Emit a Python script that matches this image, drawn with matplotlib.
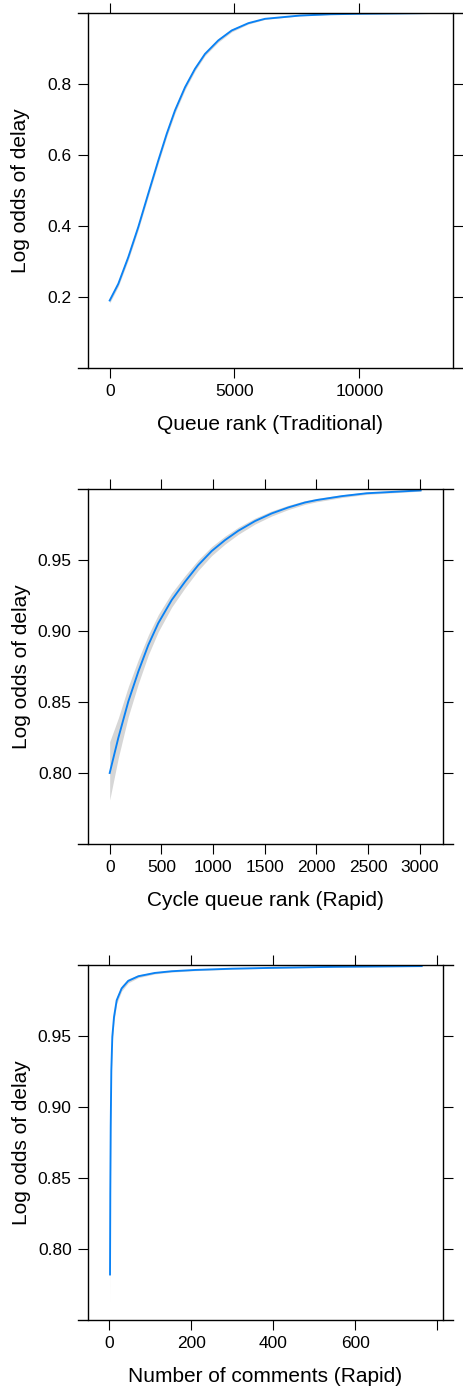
import matplotlib
matplotlib.use("Agg")
import matplotlib.pyplot as plt
from matplotlib.lines import Line2D

plt.rcParams['font.family'] = ['Liberation Sans', 'DejaVu Sans']

# fitted effect curves with confidence bands
queue_x = [0, 345, 745, 1146, 1546, 1947, 2284, 2616, 3017, 3417, 3818, 4351, 4888,
           5553, 6222, 7624, 8826, 10027, 11629, 12830]
queue_fit = [0.190, 0.237, 0.312, 0.397, 0.491, 0.584, 0.659, 0.725, 0.790, 0.842, 0.884,
             0.922, 0.950, 0.9705, 0.9828, 0.992, 0.9955, 0.997, 0.998, 0.999]
queue_lo = [0.183, 0.230, 0.304, 0.389, 0.483, 0.576, 0.651, 0.717, 0.783, 0.836, 0.879,
            0.917, 0.946, 0.9680, 0.9810, 0.9910, 0.9949, 0.9966, 0.9977, 0.9988]
queue_hi = [0.197, 0.244, 0.320, 0.405, 0.499, 0.592, 0.667, 0.733, 0.797, 0.848, 0.889,
            0.927, 0.954, 0.9730, 0.9846, 0.9930, 0.9961, 0.9974, 0.9983, 0.9992]

cycle_x = [0, 83, 180, 277, 374, 470, 600, 729, 857, 987, 1116, 1245, 1406, 1568, 1728,
           1890, 2003, 2250, 2487, 3010]
cycle_fit = [0.800, 0.8246, 0.8503, 0.8714, 0.8902, 0.9055, 0.9218, 0.9347, 0.9464, 0.9563,
             0.9640, 0.9706, 0.9774, 0.9828, 0.9870, 0.9905, 0.9922, 0.9950, 0.9970, 0.9990]
cycle_lo = [0.781, 0.8106, 0.8398, 0.8629, 0.8832, 0.8995, 0.9168, 0.9304, 0.9427, 0.9531,
            0.9612, 0.9681, 0.9753, 0.9810, 0.9855, 0.9892, 0.9910, 0.9940, 0.9962, 0.9985]
cycle_hi = [0.822, 0.8386, 0.8608, 0.8799, 0.8972, 0.9115, 0.9268, 0.9390, 0.9501, 0.9595,
            0.9668, 0.9731, 0.9795, 0.9846, 0.9885, 0.9918, 0.9934, 0.9960, 0.9978, 0.9995]

comments_x = [1.7, 2.4, 3.4, 4.9, 7.3, 11.5, 18, 30, 46, 71, 111, 152, 209, 300, 400, 550, 762]
comments_fit = [0.782, 0.839, 0.886, 0.9258, 0.9493, 0.9633, 0.9750, 0.9833, 0.9886, 0.9919,
                0.9942, 0.9954, 0.9963, 0.9972, 0.9978, 0.9985, 0.9990]
comments_lo = [0.762, 0.827, 0.878, 0.9205, 0.9455, 0.9603, 0.9726, 0.9814, 0.9872, 0.9909,
               0.9935, 0.9948, 0.9958, 0.9968, 0.9975, 0.9983, 0.9988]
comments_hi = [0.800, 0.851, 0.894, 0.9311, 0.9531, 0.9663, 0.9774, 0.9852, 0.9900, 0.9929,
               0.9949, 0.9960, 0.9968, 0.9976, 0.9981, 0.9987, 0.9992]

panels = [
    dict(x=queue_x, fit=queue_fit, lo=queue_lo, hi=queue_hi,
         xlabel='Queue rank (Traditional)',
         xticks=[0, 5000, 10000], xticklabels=['0', '5000', '10000'],
         yticks=[0.2, 0.4, 0.6, 0.8], yticklabels=['0.2', '0.4', '0.6', '0.8'],
         xlim=(-869, 13754), ylim=(0.0, 1.0),
         box=(88, 453, 12.7, 368)),
    dict(x=cycle_x, fit=cycle_fit, lo=cycle_lo, hi=cycle_hi,
         xlabel='Cycle queue rank (Rapid)',
         xticks=[0, 500, 1000, 1500, 2000, 2500, 3000],
         xticklabels=['0', '500', '1000', '1500', '2000', '2500', '3000'],
         yticks=[0.80, 0.85, 0.90, 0.95], yticklabels=['0.80', '0.85', '0.90', '0.95'],
         xlim=(-210, 3226), ylim=(0.75, 1.0),
         box=(88, 443, 489, 844)),
    dict(x=comments_x, fit=comments_fit, lo=comments_lo, hi=comments_hi,
         xlabel='Number of comments (Rapid)',
         xticks=[0, 200, 400, 600, 800], xticklabels=['0', '200', '400', '600', ''],
         yticks=[0.80, 0.85, 0.90, 0.95], yticklabels=['0.80', '0.85', '0.90', '0.95'],
         xlim=(-52, 814), ylim=(0.75, 1.0),
         box=(88, 443, 964.7, 1320)),
]

W, H = 464, 1391
fig = plt.figure(figsize=(W / 100, H / 100), dpi=100)

for p in panels:
    left, right, top, bottom = p['box']
    ax = fig.add_axes([left / W, 1 - bottom / H, (right - left) / W, (bottom - top) / H])
    w_px = right - left
    h_px = bottom - top

    ax.fill_between(p['x'], p['lo'], p['hi'], color='#d6d6d6', lw=0)
    ax.plot(p['x'], p['fit'], color='#0a82f5', lw=1.35, solid_joinstyle='round')

    ax.set_xlim(*p['xlim'])
    ax.set_ylim(*p['ylim'])
    ax.set_xticks(p['xticks'])
    ax.set_xticklabels(p['xticklabels'])
    ax.set_yticks(p['yticks'])
    ax.set_yticklabels(p['yticklabels'])
    ax.tick_params(direction='out', length=7.2, width=0.8, colors='black',
                   labelsize=12.5, pad=4.5,
                   top=True, right=True, labeltop=False, labelright=False)

    # lattice-style frame: vertical sides on the box, horizontal sides run past it
    for side in ('top', 'bottom'):
        ax.spines[side].set_visible(False)
    for side in ('left', 'right'):
        ax.spines[side].set_linewidth(1.0)
        ax.spines[side].set_color('black')
    ext = 10 / w_px
    for yy in (0, 1):
        ax.add_line(Line2D([-ext, 1 + ext], [yy, yy], transform=ax.transAxes,
                           color='black', lw=1.0, clip_on=False))

    ax.set_xlabel(p['xlabel'], fontsize=15)
    ax.xaxis.set_label_coords(0.5, -56 / h_px)
    ax.xaxis.label.set_va('center')
    ax.set_ylabel('Log odds of delay', fontsize=15)
    ax.yaxis.set_label_coords(-(88 - 21) / w_px, 0.5)
    ax.yaxis.label.set_va('center')

fig.savefig('out.png', dpi=100)
